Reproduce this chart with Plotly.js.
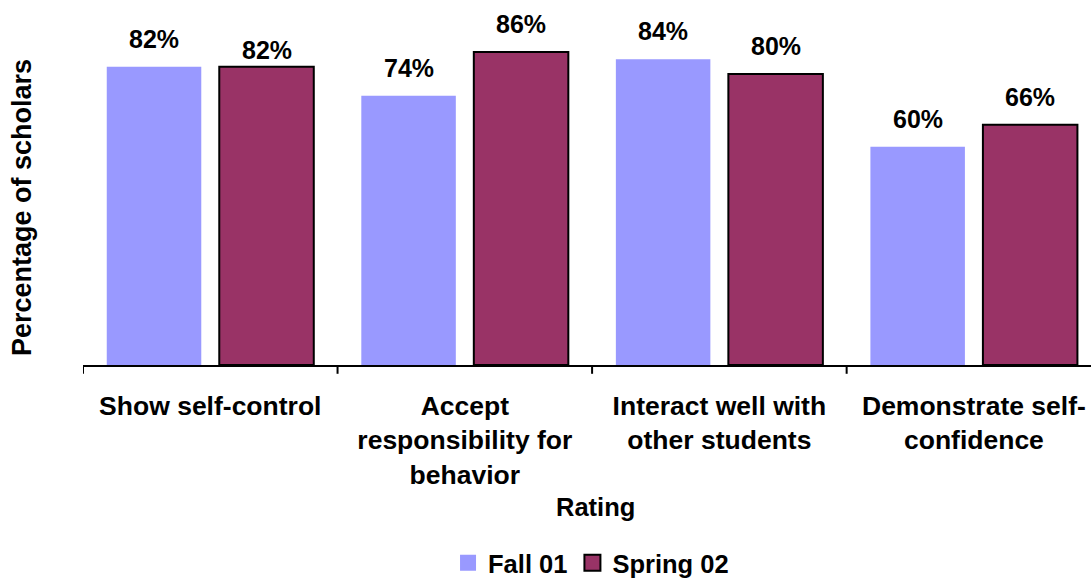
<!DOCTYPE html>
<html>
<head>
<meta charset="utf-8">
<script src="https://cdn.plot.ly/plotly-3.0.1.min.js"></script>
<style>html,body{margin:0;padding:0;background:#fff;}#chart{width:1091px;height:578px;}</style>
</head>
<body>
<div id="chart"></div>
<script>
const categories = ["Show self-control", "Accept<br>responsibility for<br>behavior", "Interact well with<br>other students", "Demonstrate self-<br>confidence"];
const seriesNames = ["Fall 01", "Spring 02"];
const fall01 = [82, 74, 84, 60];
const spring02 = [82, 86, 80, 66];
const xTitle = "Rating";
const yTitle = "Percentage of scholars";

const FONT = "Liberation Sans, Arial, Helvetica, sans-serif";
const BARGAP = 0.116, GROUPGAP = 0.16;
const colors = ["#9999FF", "#993366"];
const borders = [{width: 0}, {color: "#000000", width: 2}];
const labelLift = [[28, 28, 28, 28], [17, 28, 28, 28]];
const f = (size) => ({family: FONT, size: size, color: "#000", weight: "bold"});

const traces = [];
[fall01, spring02].forEach((vals, s) => {
  traces.push({type: "bar", name: seriesNames[s], x: [0,1,2,3], y: vals,
    marker: {color: colors[s], line: borders[s]}, showlegend: false});
});
// legend entries (square swatches)
[0, 1].forEach(s => {
  traces.push({type: "scatter", mode: "markers", name: seriesNames[s], x: [null], y: [null],
    marker: {symbol: "square", size: 16, color: colors[s], line: s === 1 ? {color: "#000", width: 2} : {width: 0}},
    showlegend: true});
});

const slot = (1 - BARGAP) / 2;
const annotations = [];
[fall01, spring02].forEach((vals, s) => {
  const off = (s === 0 ? -1 : 1) * slot / 2;
  vals.forEach((v, i) => {
    annotations.push({x: i + off, y: v, xref: "x", yref: "y", text: v + "%",
      showarrow: false, yanchor: "middle", yshift: labelLift[s][i], font: f(25)});
  });
});
annotations.push({xref: "paper", yref: "paper", x: -0.0605, y: 0.5, xanchor: "center", yanchor: "middle",
  textangle: -90, text: yTitle, showarrow: false, font: f(27)});
annotations.push({xref: "paper", yref: "paper", x: 0.508, y: -0.452, xanchor: "center", yanchor: "middle",
  text: xTitle, showarrow: false, font: f(25.5)});

const layout = {
  width: 1091, height: 578,
  margin: {l: 83, r: 0, t: 51, b: 213, autoexpand: false},
  paper_bgcolor: "#fff", plot_bgcolor: "#fff",
  font: f(25),
  barmode: "group", bargap: BARGAP, bargroupgap: GROUPGAP,
  showlegend: true,
  legend: {orientation: "h", x: 0.504, xanchor: "center", y: -0.631, yanchor: "middle",
    font: f(25.5), itemwidth: 30, tracegroupgap: 0},
  xaxis: {
    type: "linear", range: [-0.5, 3.46], automargin: false,
    tickmode: "array", tickvals: [0,1,2,3], ticktext: categories,
    showline: true, linecolor: "#000", linewidth: 2,
    ticks: "", showgrid: false, zeroline: false, ticklabelstandoff: 16,
    tickfont: f(26.5)
  },
  yaxis: {
    range: [0, 86.3], automargin: false, showline: false, showticklabels: false, ticks: "",
    showgrid: false, zeroline: false
  },
  shapes: [-0.5, 0.5, 1.5, 2.5].map(b => ({type: "line", xref: "x", yref: "paper",
    x0: b, x1: b, y0: 0, y1: -0.028, line: {color: "#000", width: 2}})),
  annotations: annotations
};

Plotly.newPlot("chart", traces, layout, {displayModeBar: false, staticPlot: true});
</script>
</body>
</html>
